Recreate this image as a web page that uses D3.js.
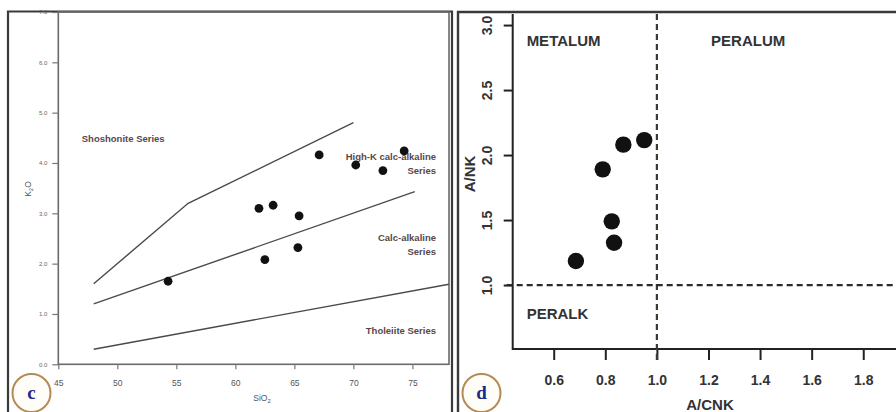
<!DOCTYPE html>
<html>
<head>
<meta charset="utf-8">
<script src="https://cdn.jsdelivr.net/npm/d3@7/dist/d3.min.js"></script>
<style>
  html, body { margin: 0; padding: 0; background: #fff; }
  svg { display: block; font-family: "Liberation Sans", Arial, sans-serif; }
</style>
</head>
<body>
<svg id="chart" width="896" height="412"></svg>
<script>
// Panel c: K2O vs SiO2 classification
const sio2 = [54.3, 62.0, 63.2, 65.4, 62.5, 65.3, 67.1, 70.2, 72.5, 74.3];
const k2o  = [1.65, 3.10, 3.16, 2.95, 2.08, 2.32, 4.16, 3.96, 3.85, 4.24];
const shoshoniteLine = [[48, 1.6], [56, 3.2], [70, 4.8]];
const calcAlkLine    = [[48, 1.2], [75.2, 3.43]];
const tholeiiteLine  = [[48, 0.3], [78.1, 1.59]];
const sio2Ticks = [45, 50, 55, 60, 65, 70, 75];
const k2oTicks  = [0, 1, 2, 3, 4, 5, 6, 7];
const seriesLabels = [
  { lines: ["Shoshonite Series"], x: 50.5, y: 4.42, anchor: "middle" },
  { lines: ["High-K calc-alkaline", "Series"], x: 77.0, y: 4.05, anchor: "end" },
  { lines: ["Calc-alkaline", "Series"], x: 77.0, y: 2.45, anchor: "end" },
  { lines: ["Tholeiite Series"], x: 77.0, y: 0.60, anchor: "end" }
];

// Panel d: A/NK vs A/CNK (Shand index)
const acnk = [0.686, 0.790, 0.870, 0.951, 0.825, 0.834];
const ank  = [1.185, 1.890, 2.080, 2.115, 1.490, 1.325];
const acnkTicks = [0.6, 0.8, 1.0, 1.2, 1.4, 1.6, 1.8];
const ankTicks  = [1.0, 1.5, 2.0, 2.5, 3.0];
const fieldLabels = [
  { text: "METALUM", x: 0.495, y: 2.88 },
  { text: "PERALUM", x: 1.21,  y: 2.88 },
  { text: "PERALK",  x: 0.495, y: 0.78 }
];

const svg = d3.select("#chart");
svg.append("rect").attr("width", 896).attr("height", 412).attr("fill", "#fff");

// ---------- panel c ----------
const xL = d3.scaleLinear().domain([45, 78.1]).range([58.3, 449]);
const yL = d3.scaleLinear().domain([0, 7]).range([364.3, 12]);
const gL = svg.append("g");

// outer frame
gL.append("path").attr("d", "M8,412V11.5H452V412")
  .attr("fill", "none").attr("stroke", "#3a3a3a").attr("stroke-width", 2.2);

// plot box
gL.append("rect")
  .attr("x", xL.range()[0]).attr("y", yL.range()[1])
  .attr("width", xL.range()[1] - xL.range()[0])
  .attr("height", yL.range()[0] - yL.range()[1])
  .attr("fill", "none").attr("stroke", "#6a6a6a").attr("stroke-width", 1.6);

const axL = gL.append("g").attr("transform", `translate(0,${yL(0)})`)
  .call(d3.axisBottom(xL).tickValues(sio2Ticks).tickSize(5).tickPadding(11).tickFormat(d3.format("d")));
axL.select(".domain").remove();
axL.selectAll("line").attr("stroke", "#777").attr("stroke-width", 1.2);
axL.selectAll("text").attr("font-size", 8.5).attr("fill", "#555").attr("font-family", "Liberation Sans, Arial");

const ayL = gL.append("g").attr("transform", `translate(${xL(45)},0)`)
  .call(d3.axisLeft(yL).tickValues(k2oTicks).tickSize(6).tickPadding(5).tickFormat(d3.format(".1f")));
ayL.select(".domain").remove();
ayL.selectAll("line").attr("stroke", "#777").attr("stroke-width", 1.2);
ayL.selectAll("text").attr("font-size", 6).attr("fill", "#666").attr("font-family", "Liberation Sans, Arial");

// axis titles
const sx = gL.append("text").attr("x", 262).attr("y", 401).attr("text-anchor", "middle")
  .attr("font-size", 8.5).attr("fill", "#555");
sx.append("tspan").text("SiO");
sx.append("tspan").attr("font-size", 6).attr("dy", 2).text("2");
const ky = gL.append("text").attr("transform", "translate(31,189) rotate(-90)")
  .attr("text-anchor", "middle").attr("font-size", 8.5).attr("fill", "#555");
ky.append("tspan").text("K");
ky.append("tspan").attr("font-size", 6).attr("dy", 2).text("2");
ky.append("tspan").attr("dy", -2).text("O");

// boundary lines
const lineL = d3.line().x(d => xL(d[0])).y(d => yL(d[1]));
[shoshoniteLine, calcAlkLine, tholeiiteLine].forEach(pts => {
  gL.append("path").attr("d", lineL(pts))
    .attr("fill", "none").attr("stroke", "#4a4a4a").attr("stroke-width", 1.4);
});

// series labels
seriesLabels.forEach(s => {
  const t = gL.append("text").attr("x", xL(s.x)).attr("y", yL(s.y))
    .attr("text-anchor", s.anchor).attr("font-size", 9.5).attr("font-weight", "bold")
    .attr("fill", "#5a4848");
  s.lines.forEach((ln, i) => t.append("tspan").attr("x", xL(s.x)).attr("dy", i ? 14 : 0).text(ln));
});

// samples
gL.selectAll("circle.pt").data(sio2).join("circle").attr("class", "pt")
  .attr("cx", (d) => xL(d)).attr("cy", (d, i) => yL(k2o[i]))
  .attr("r", 4.4).attr("fill", "#111");

// ---------- panel d ----------
const xR = d3.scaleLinear().domain([0.441, 1.927]).range([512.7, 896]);
const yR = d3.scaleLinear().domain([0.508, 3.085]).range([349, 14]);
const gR = svg.append("g");

// outer frame
gR.append("path").attr("d", "M458,412V12H896")
  .attr("fill", "none").attr("stroke", "#3a3a3a").attr("stroke-width", 2.4);

// axes lines
gR.append("path").attr("d", `M${xR.range()[0]},${yR.range()[1]}V${yR.range()[0]}H896`)
  .attr("fill", "none").attr("stroke", "#222").attr("stroke-width", 2);

const axR = gR.append("g").attr("transform", `translate(0,${yR.range()[0]})`)
  .call(d3.axisBottom(xR).tickValues(acnkTicks).tickSize(11).tickPadding(15).tickFormat(d3.format(".1f")));
axR.select(".domain").remove();
axR.selectAll("line").attr("stroke", "#222").attr("stroke-width", 2);
axR.selectAll("text").attr("font-size", 14).attr("font-weight", "bold").attr("fill", "#333")
  .attr("font-family", "Liberation Sans, Arial");

const ayR = gR.append("g").attr("transform", `translate(${xR.range()[0]},0)`)
  .call(d3.axisLeft(yR).tickValues(ankTicks).tickSize(9).tickPadding(0).tickFormat(d3.format(".1f")));
ayR.select(".domain").remove();
ayR.selectAll("line").attr("stroke", "#222").attr("stroke-width", 2);
ayR.selectAll("text").attr("font-size", 14).attr("font-weight", "bold").attr("fill", "#333")
  .attr("font-family", "Liberation Sans, Arial")
  .attr("text-anchor", "middle").attr("dy", null).attr("x", null)
  .attr("transform", "translate(-26,0) rotate(-90)").attr("y", 5);

// axis titles
gR.append("text").attr("x", 710).attr("y", 410).attr("text-anchor", "middle")
  .attr("font-size", 15).attr("font-weight", "bold").attr("fill", "#333").text("A/CNK");
gR.append("text").attr("transform", "translate(475,174) rotate(-90)").attr("text-anchor", "middle")
  .attr("font-size", 15).attr("font-weight", "bold").attr("fill", "#333").text("A/NK");

// dashed dividers at A/CNK = 1 and A/NK = 1
gR.append("line").attr("x1", xR(1)).attr("x2", xR(1)).attr("y1", yR.range()[1]).attr("y2", yR.range()[0] + 11)
  .attr("stroke", "#3a3a30").attr("stroke-width", 2.2).attr("stroke-dasharray", "6,4");
gR.append("line").attr("x1", xR.range()[0] - 6).attr("x2", 896).attr("y1", yR(1)).attr("y2", yR(1))
  .attr("stroke", "#2a2a2a").attr("stroke-width", 2.2).attr("stroke-dasharray", "6,4");

// field labels
fieldLabels.forEach(f => {
  gR.append("text").attr("x", xR(f.x)).attr("y", yR(f.y)).attr("dy", "0.35em")
    .attr("font-size", 15).attr("font-weight", "bold").attr("fill", "#333")
    .text(f.text);
});

// samples
gR.selectAll("circle.pt").data(acnk).join("circle").attr("class", "pt")
  .attr("cx", d => xR(d)).attr("cy", (d, i) => yR(ank[i]))
  .attr("r", 8.2).attr("fill", "#111");

// ---------- panel letters ----------
[{ t: "c", cx: 31.5, cy: 393 }, { t: "d", cx: 481.5, cy: 393 }].forEach(p => {
  svg.append("circle").attr("cx", p.cx).attr("cy", p.cy).attr("r", 19)
    .attr("fill", "#fffdf8").attr("stroke", "#b48a55").attr("stroke-width", 2);
  svg.append("text").attr("x", p.cx).attr("y", p.cy + 6).attr("text-anchor", "middle")
    .attr("font-family", "Liberation Serif, 'DejaVu Serif', serif").attr("font-weight", "bold")
    .attr("font-size", 19).attr("fill", "#1d2a8c").text(p.t);
});
</script>
</body>
</html>
